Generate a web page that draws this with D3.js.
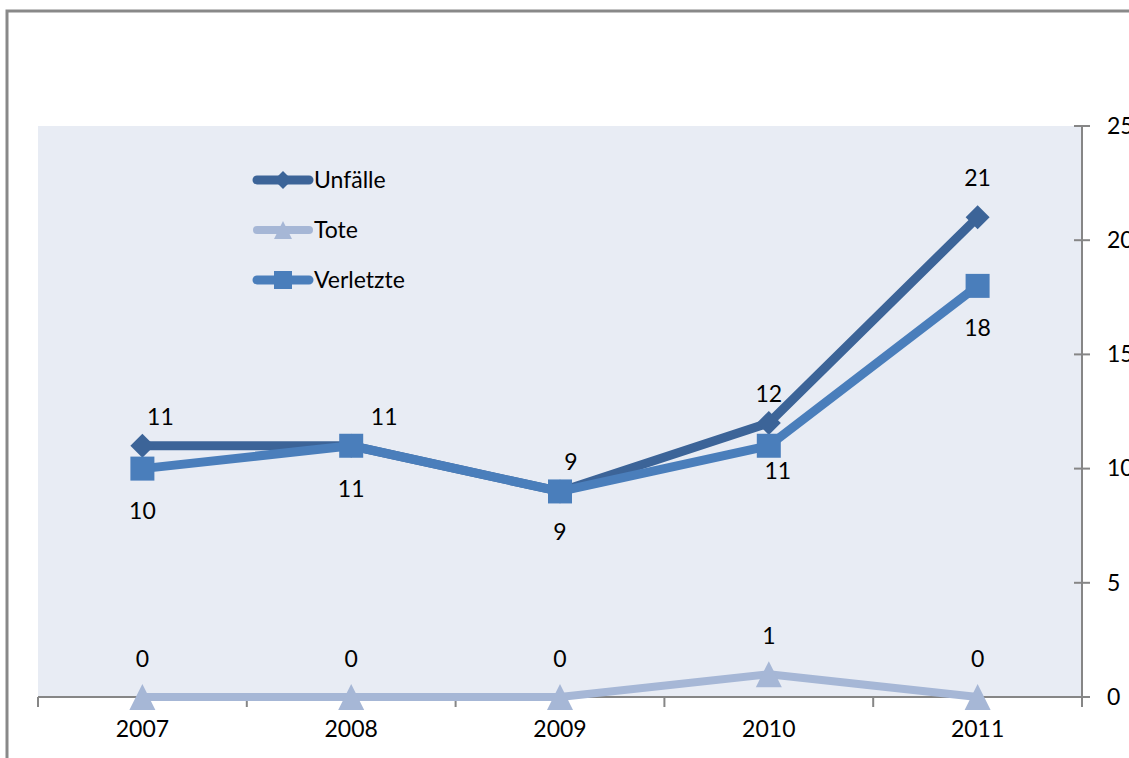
<!DOCTYPE html>
<html>
<head>
<meta charset="utf-8">
<script src="https://cdn.jsdelivr.net/npm/d3@7"></script>
<style>
  body { margin: 0; background: #fff; }
  text { font-family: Lato, "Open Sans", sans-serif; fill: #000; }
</style>
</head>
<body>
<svg id="chart"></svg>
<script>
// chart data
let years = ["2007", "2008", "2009", "2010", "2011"];
let unfaelle = [11, 11, 9, 12, 21];
let tote = [0, 0, 0, 1, 0];
let verletzte = [10, 11, 9, 11, 18];
let yTicks = [0, 5, 10, 15, 20, 25];

// label nudges (pixels) copied from the original layout
let unfaelleLabelDx = [18, 33, 11, 0, 0];
let verletzteLabelDx = [0, 0, 0, 9, 0];
let verletzteLabelDy = [42, 43, 41, 25, 42];

let width = 1129;
let height = 758;
let plotLeft = 38, plotRight = 1082, plotTop = 126, plotBottom = 697;
let fontSize = "23px";

let svg = d3.select("#chart").attr("width", width).attr("height", height);

// outer border
svg.append("path")
    .attr("d", "M7," + height + " L7,11 L" + width + ",11")
    .attr("fill", "none")
    .attr("stroke", "#898989")
    .attr("stroke-width", 3);

// plot area
svg.append("rect")
    .attr("x", plotLeft).attr("y", plotTop)
    .attr("width", plotRight - plotLeft).attr("height", plotBottom - plotTop)
    .attr("fill", "#E8ECF4");

let xScale = d3.scaleBand().domain(years).range([plotLeft, plotRight]);
let yScale = d3.scaleLinear().domain([0, 25]).range([plotBottom, plotTop]);
let cx = (d) => xScale(d) + xScale.bandwidth() / 2;

// x axis
let xAxis = d3.axisBottom(xScale).tickSize(0).tickPadding(24);
let gx = svg.append("g").attr("transform", "translate(0," + plotBottom + ")").call(xAxis);
gx.select(".domain").remove();
gx.selectAll("text").style("font-size", fontSize).style("font-family", "Lato");
let bounds = years.map((d) => xScale(d)).concat([plotRight]);
svg.append("line")
    .attr("x1", plotLeft).attr("x2", plotRight)
    .attr("y1", plotBottom).attr("y2", plotBottom)
    .attr("stroke", "#868686").attr("stroke-width", 2);
svg.selectAll(".xtick").data(bounds).enter().append("line")
    .attr("x1", (d) => d).attr("x2", (d) => d)
    .attr("y1", plotBottom).attr("y2", plotBottom + 10)
    .attr("stroke", "#868686").attr("stroke-width", 2);

// right y axis
let yAxis = d3.axisRight(yScale).tickValues(yTicks).tickSize(0).tickPadding(25);
let gy = svg.append("g").attr("transform", "translate(" + plotRight + ",0)").call(yAxis);
gy.select(".domain").remove();
gy.selectAll("text").style("font-size", fontSize).style("font-family", "Lato");
svg.append("line")
    .attr("x1", plotRight).attr("x2", plotRight)
    .attr("y1", plotTop).attr("y2", plotBottom + 10)
    .attr("stroke", "#868686").attr("stroke-width", 2);
svg.selectAll(".ytick").data(yTicks).enter().append("line")
    .attr("x1", plotRight - 8).attr("x2", plotRight + 8)
    .attr("y1", (d) => yScale(d)).attr("y2", (d) => yScale(d))
    .attr("stroke", "#868686").attr("stroke-width", 2);

// marker shapes
let diamond = (s) => "M0," + (-s) + " L" + s + ",0 L0," + s + " L" + (-s) + ",0Z";
let triangle = (s) => "M0," + (-s) + " L" + s + "," + s + " L" + (-s) + "," + s + "Z";
let square = (s) => "M" + (-s) + "," + (-s) + " h" + (2 * s) + " v" + (2 * s) + " h" + (-2 * s) + "Z";

let series = [
    { name: "Unfälle", values: unfaelle, color: "#3C6498", shape: diamond, size: 12, lw: 9 },
    { name: "Tote", values: tote, color: "#A6B7D6", shape: triangle, size: 13, lw: 8 },
    { name: "Verletzte", values: verletzte, color: "#4A7EBB", shape: square, size: 12, lw: 9 }
];

let line = d3.line().x((d, i) => cx(years[i])).y((d) => yScale(d));

series.forEach((s) => {
    svg.append("path")
        .datum(s.values)
        .attr("d", line)
        .attr("fill", "none")
        .attr("stroke", s.color)
        .attr("stroke-width", s.lw)
        .attr("stroke-linejoin", "round");
    svg.selectAll(null)
        .data(s.values)
        .enter()
        .append("path")
        .attr("d", s.shape(s.size))
        .attr("fill", s.color)
        .attr("transform", (d, i) => "translate(" + cx(years[i]) + "," + yScale(d) + ")");
});

// data labels
let labelStyle = (sel) => sel.style("font-size", fontSize).attr("text-anchor", "middle");

svg.selectAll(".lu").data(unfaelle).enter().append("text")
    .attr("x", (d, i) => cx(years[i]) + unfaelleLabelDx[i])
    .attr("y", (d, i) => yScale(d) - (i == 4 ? 39 : 29) + 8)
    .text((d) => d)
    .call(labelStyle);

svg.selectAll(".lt").data(tote).enter().append("text")
    .attr("x", (d, i) => cx(years[i]))
    .attr("y", (d) => yScale(d) - 38 + 8)
    .text((d) => d)
    .call(labelStyle);

svg.selectAll(".lv").data(verletzte).enter().append("text")
    .attr("x", (d, i) => cx(years[i]) + verletzteLabelDx[i])
    .attr("y", (d, i) => yScale(d) + verletzteLabelDy[i] + 8)
    .text((d) => d)
    .call(labelStyle);

// legend
let legend = svg.selectAll(".legend").data(series).enter().append("g")
    .attr("transform", (d, i) => "translate(253," + (180 + i * 50) + ")");
legend.append("line")
    .attr("x1", 4).attr("x2", 56)
    .attr("stroke", (d) => d.color)
    .attr("stroke-width", (d) => d.lw)
    .attr("stroke-linecap", "round");
legend.append("path")
    .attr("d", (d) => d.shape(9))
    .attr("transform", "translate(30,0)")
    .attr("fill", (d) => d.color);
legend.append("text")
    .attr("x", 61).attr("y", 8)
    .style("font-size", fontSize)
    .text((d) => d.name);
</script>
</body>
</html>
